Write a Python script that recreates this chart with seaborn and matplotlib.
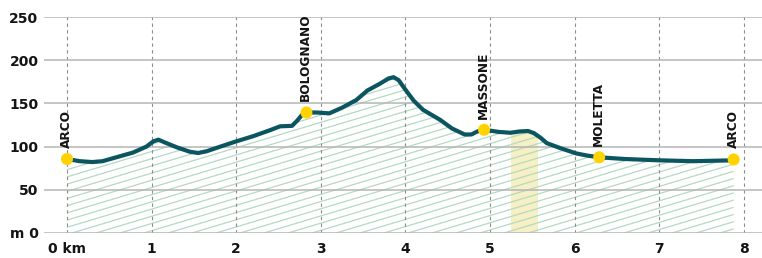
import numpy as np
import matplotlib
matplotlib.use("Agg")
import matplotlib.pyplot as plt
import seaborn as sns
from matplotlib.collections import LineCollection
from matplotlib.patches import Polygon
from matplotlib.transforms import IdentityTransform

# ---- data ----
dist = [0.0, 0.15, 0.3, 0.42, 0.6, 0.78, 0.94, 1.02, 1.08, 1.15, 1.3, 1.45, 1.55,
        1.65, 1.8, 2.0, 2.2, 2.4, 2.52, 2.66, 2.72, 2.78, 2.83, 2.95, 3.1, 3.25,
        3.42, 3.55, 3.7, 3.8, 3.86, 3.92, 4.0, 4.1, 4.21, 4.41, 4.55, 4.7, 4.78,
        4.85, 4.93, 5.1, 5.24, 5.35, 5.45, 5.52, 5.6, 5.67, 5.85, 6.02, 6.15,
        6.29, 6.6, 7.0, 7.4, 7.88]
elev = [85.5, 83, 82, 83, 88, 93, 100, 106, 108, 105, 99, 94, 92.5,
        94.5, 99.5, 106, 112, 119, 123.5, 124, 130, 137, 139.5, 139.5, 138.5, 145,
        154, 165, 173, 179, 180.5, 177, 166, 153, 142.5, 131, 121, 114, 114,
        117.5, 119.5, 117, 116, 117.5, 118, 115.5, 110, 104, 97.5, 92, 89.5,
        87.5, 85.5, 84, 83, 84]

stop_names = ["ARCO", "BOLOGNANO", "MASSONE", "MOLETTA", "ARCO"]
stop_km = [0.0, 2.83, 4.93, 6.29, 7.88]
stop_elev = [85.5, 139.5, 119.5, 87.5, 85]

band_km = [5.25, 5.57]

x_ticks = [0, 1, 2, 3, 4, 5, 6, 7, 8]
x_labels = ["0 km", "1", "2", "3", "4", "5", "6", "7", "8"]
y_ticks = [0, 50, 100, 150, 200, 250]
y_labels = ["m 0", "50", "100", "150", "200", "250"]

# ---- style ----
sns.set_theme(style="white")
plt.rcParams["font.family"] = ["DejaVu Sans"]

LINE_C = "#0b5560"
DOT_C = "#ffd200"
HATCH_C = "#b3dac3"
BAND_C = "#f7f0c4"
TXT_C = "#141414"

fig = plt.figure(figsize=(7.62, 2.58), dpi=100)
ax = fig.add_axes([44 / 762, 25.3 / 258, 718 / 762, 215.4 / 258])
ax.set_xlim(-0.272, 8.215)
ax.set_ylim(0, 250)

# area polygon (clip region)
poly_xy = [(dist[0], 0)] + list(zip(dist, elev)) + [(dist[-1], 0)]
area = Polygon(poly_xy, closed=True, facecolor="white", edgecolor="none",
               transform=ax.transData, zorder=0.5)
ax.add_patch(area)

# highlight band
band = ax.axvspan(band_km[0], band_km[1], color=BAND_C, zorder=0.8, lw=0)
band.set_clip_path(area)

# shallow diagonal hatch lines, drawn in display space and clipped to area
W, H = 762, 258
slope = 0.30
spacing = 7.2
segs = []
c = -slope * W - 20
while c < H + 20:
    segs.append([(0, c), (W, c + slope * W)])
    c += spacing
hatch = LineCollection(segs, colors=HATCH_C, linewidths=0.9,
                       transform=IdentityTransform(), zorder=1)
ax.add_collection(hatch, autolim=False)
hatch.set_clip_path(area)

# grid
ax.set_axisbelow(False)
ax.set_xticks(x_ticks)
ax.set_xticklabels(x_labels)
ax.set_yticks(y_ticks)
ax.set_yticklabels(y_labels)
ax.grid(axis="y", color="#b5b5b5", lw=1.1, ls="-")
ax.grid(axis="x", color="#8c8c8c", lw=0.8, ls=(0, (3, 3)))
for gl in ax.get_ygridlines():
    gl.set_zorder(2.4)
for gl in ax.get_xgridlines():
    gl.set_zorder(2.5)

# profile line
sns.lineplot(x=dist, y=elev, ax=ax, color=LINE_C, lw=3.0, sort=False,
             zorder=3, solid_capstyle="round", solid_joinstyle="round")

# stop markers
sns.scatterplot(x=stop_km, y=stop_elev, ax=ax, color=DOT_C, s=75,
                edgecolor="none", zorder=4, clip_on=False)

for name, xk, yk in zip(stop_names, stop_km, stop_elev):
    ax.annotate(name, (xk, yk), xytext=(-0.5, 8), textcoords="offset points",
                rotation=90, ha="center", va="bottom", fontsize=8.7,
                fontweight="bold", color=TXT_C, zorder=5)

for s in ax.spines.values():
    s.set_visible(False)
ax.tick_params(axis="both", length=0, labelsize=10, labelcolor=TXT_C)
ax.tick_params(axis="y", pad=4)
ax.tick_params(axis="x", pad=7)
for lab in ax.get_xticklabels() + ax.get_yticklabels():
    lab.set_fontweight("bold")
ax.set_xlabel("")
ax.set_ylabel("")

fig.savefig("out.png", dpi=100)
